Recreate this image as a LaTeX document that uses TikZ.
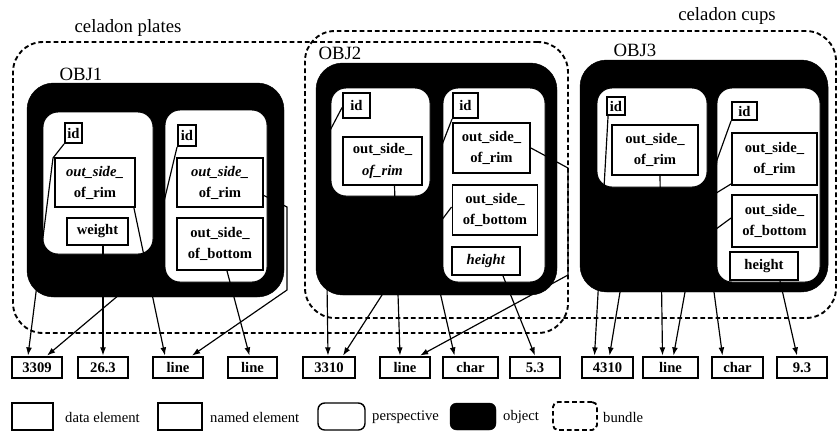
\documentclass[tikz,border=0pt]{standalone}
\usepackage{fontspec}
\setmainfont{Liberation Serif}
\usetikzlibrary{arrows.meta,calc}

\begin{document}
\begin{tikzpicture}[x=0.3mm,y=-0.3mm,
  sz/.style 2 args={minimum width=#1*0.3mm,minimum height=#2*0.3mm},
  bnd/.style={draw,dash pattern=on 4pt off 2.5pt,line width=1.6pt,rounded corners=9mm,inner sep=0pt},
  obj/.style={fill=black,draw=black,rounded corners=8mm,inner sep=0pt},
  persp/.style={fill=white,draw=black,line width=0.8pt,rounded corners=4.5mm,inner sep=0pt},
  el/.style={draw,fill=white,line width=1.6pt,inner sep=1pt,align=center,font=\bfseries\fontsize{12.5}{18}\selectfont},
  dat/.style={draw,fill=white,line width=2.4pt,inner sep=1pt,font=\bfseries\fontsize{12.5}{15}\selectfont},
  ttl/.style={font=\fontsize{16}{18}\selectfont,inner sep=0pt},
  lg/.style={anchor=west,inner sep=0pt,font=\fontsize{12.5}{15}\selectfont},
  conn/.style={line width=1pt,-{Latex[length=7pt,width=5pt]}}]
  \useasboundingbox (0,0) rectangle (838,432);

  % bundles
  \node[bnd,sz={555}{291}] (plates) at (290.5,187.5) {};
  \node[bnd,sz={531}{287}] (cups) at (570.5,174.5) {};
  \node[ttl] (platesl) at (128,28) {celadon plates};
  \node[ttl] (cupsl) at (727,16) {celadon cups};

  % objects
  \node[obj,sz={257}{214}] (obj1) at (155.5,190) {};
  \node[obj,sz={241}{232}] (obj2) at (436.5,179) {};
  \node[obj,sz={248}{232}] (obj3) at (704,176) {};
  \node[ttl] (obj1l) at (81,74) {OBJ1};
  \node[ttl] (obj2l) at (340,53) {OBJ2};
  \node[ttl] (obj3l) at (635,50) {OBJ3};

  % perspectives
  \node[persp,sz={110}{142}] (p1a) at (98,183) {};
  \node[persp,sz={102}{172}] (p1b) at (216,196) {};
  \node[persp,sz={99}{108}] (p2a) at (380.5,142) {};
  \node[persp,sz={102}{194}] (p2b) at (494,185) {};
  \node[persp,sz={110}{99}] (p3a) at (652,137.5) {};
  \node[persp,sz={103}{194}] (p3b) at (768.5,185) {};

  % named elements
  \node[el,sz={17}{20}] (id1a) at (73.5,133) {id};
  \node[el,sz={80}{49}] (rim1a) at (95,182.5) {\textit{out\_side\_}\\of\_rim};
  \node[el,sz={61}{27}] (wt1a) at (97.5,231.5) {weight};
  \node[el,sz={18}{21}] (id1b) at (187,135.5) {id};
  \node[el,sz={86}{49}] (rim1b) at (220,182.5) {\textit{out\_side\_}\\of\_rim};
  \node[el,sz={86}{52}] (bot1b) at (220,244) {out\_side\_\\of\_bottom};
  \node[el,sz={27}{25}] (id2a) at (356.5,105.5) {id};
  \node[el,sz={79}{48}] (rim2a) at (382.5,161) {out\_side\_\\\textit{of\_rim}};
  \node[el,sz={25}{25}] (id2b) at (465.5,105.5) {id};
  \node[el,sz={77}{50}] (rim2b) at (491.5,148) {out\_side\_\\of\_rim};
  \node[el,sz={85}{50}] (bot2b) at (495,210) {out\_side\_\\of\_bottom};
  \node[el,sz={68}{28}] (ht2b) at (486,261) {\textit{height}};
  \node[el,sz={18}{18}] (id3a) at (616,106) {id};
  \node[el,sz={86}{50}] (rim3a) at (655,150) {out\_side\_\\of\_rim};
  \node[el,sz={25}{18}] (id3b) at (744.5,111) {id};
  \node[el,sz={85}{52}] (rim3b) at (774.5,159) {out\_side\_\\of\_rim};
  \node[el,sz={85}{52}] (bot3b) at (774.5,221) {out\_side\_\\of\_bottom};
  \node[el,sz={68}{28}] (ht3b) at (764,266) {height};

  % data elements
  \node[dat,sz={50}{21}] (v3309) at (37,367.5) {3309};
  \node[dat,sz={50}{21}] (v263) at (103,367.5) {26.3};
  \node[dat,sz={50}{21}] (vline1) at (178,367.5) {line};
  \node[dat,sz={49}{21}] (vline2) at (252.5,367.5) {line};
  \node[dat,sz={52}{21}] (v3310) at (329,367.5) {3310};
  \node[dat,sz={50}{21}] (vline3) at (405,367.5) {line};
  \node[dat,sz={55}{21}] (vchar1) at (470.5,367.5) {char};
  \node[dat,sz={50}{21}] (v53) at (535,367.5) {5.3};
  \node[dat,sz={51}{21}] (v4310) at (607.5,367.5) {4310};
  \node[dat,sz={55}{21}] (vline4) at (670.5,367.5) {line};
  \node[dat,sz={51}{21}] (vchar2) at (737.5,367.5) {char};
  \node[dat,sz={50}{21}] (v93) at (802,367.5) {9.3};

  % legend
  \node[dat,sz={41}{27}] (lgdat) at (32.5,416.5) {};
  \node[lg] (lgdatl) at (65,417) {data element};
  \node[el,sz={44}{27}] (lgel) at (180,416.5) {};
  \node[lg] (lgell) at (210,417) {named element};
  \node[persp,rounded corners=2mm,line width=1.2pt,sz={47}{27}] (lgper) at (341.5,416.5) {};
  \node[lg] (lgperl) at (372,417) {perspective};
  \node[obj,rounded corners=2mm,sz={46}{27}] (lgobj) at (473,416.5) {};
  \node[lg] (lgobjl) at (503,417) {object};
  \node[bnd,rounded corners=1.5mm,sz={44}{28}] (lgbnd) at (575,416) {};
  \node[lg] (lgbndl) at (603,417) {bundle};

  % connectors
  \draw[conn] (id1a.south west) -- (53,158) -- ($(v3309.north)+(-9,0)$);
  \draw[conn] ($(rim1a.south east)+(-2,0)$) -- ($(vline1.north)+(-13,0)$);
  \draw[conn] (wt1a.south -| v263.north) -- (v263.north);
  \draw[conn] (id1b.south west) -- (162,210) -- (158,262) -- ($(v3309.north)+(10,0)$);
  \draw[conn] ($(rim1b.east)+(0,13)$) -- (287,207) -- (287,290) -- ($(vline1.north)+(14,0)$);
  \draw[conn] ($(bot1b.south)+(7,0)$) -- ($(vline2.north)+(-3,0)$);
  \draw[conn] ($(id2a.west)+(0,2)$) -- (325,140) -- ($(v3310.north)+(-1,0)$);
  \draw[conn] (id2b.south west) -- (440,150) -- (438,210) -- (382,295) -- ($(v3310.north)+(14,0)$);
  \draw[conn] ($(rim2a.south)+(12,0)$) -- ($(vline3.north)+(-5,0)$);
  \draw[conn] (rim2b.east) -- (568,168) -- (568,275) -- ($(vline3.north)+(15,0)$);
  \draw[conn] ($(bot2b.west)+(0,-3)$) -- (438,225) -- (440,292) -- ($(vchar1.north)+(-16,0)$);
  \draw[conn] ($(ht2b.south)+(17,0)$) -- (v53.north);
  \draw[conn] ($(id3a.south west)+(2,0)$) -- ($(v4310.north)+(-13,0)$);
  \draw[conn] ($(rim3a.south)+(5,0)$) -- ($(vline4.north)+(-8,0)$);
  \draw[conn] (id3b.south west) -- (717,160) -- (712,200) -- (620,292) -- ($(v4310.north)+(2,0)$);
  \draw[conn] ($(rim3b.south west)+(0,-2)$) -- (713,195) -- (685,292) -- ($(vline4.north)+(3,0)$);
  \draw[conn] ($(bot3b.west)+(0,-3)$) -- (712,232) -- (714,292) -- ($(vchar2.north)+(-15,0)$);
  \draw[conn] ($(ht3b.south)+(16,0)$) -- ($(v93.north)+(-5,0)$);
\end{tikzpicture}
\end{document}
